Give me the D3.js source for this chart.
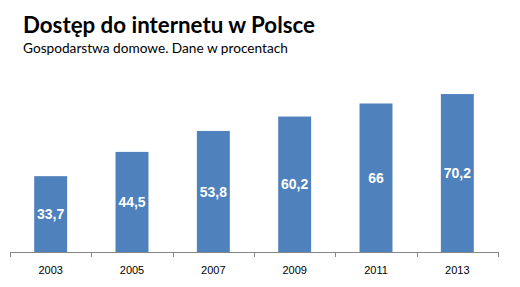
<!DOCTYPE html>
<html>
<head>
<meta charset="utf-8">
<script src="https://cdn.jsdelivr.net/npm/d3@7"></script>
<style>
  html, body { margin: 0; padding: 0; background: #fff; }
  svg { display: block; }
</style>
</head>
<body>
<svg id="chart" width="520" height="287"></svg>
<script>
const title = "Dostęp do internetu w Polsce";
const subtitle = "Gospodarstwa domowe. Dane w procentach";
const years = ["2003", "2005", "2007", "2009", "2011", "2013"];
const values = [33.7, 44.5, 53.8, 60.2, 66, 70.2];
const valueLabels = ["33,7", "44,5", "53,8", "60,2", "66", "70,2"];

const svg = d3.select("#chart");
const W = 520, H = 287;
const left = 10, right = 498, baseY = 252, topY = 72;

const x = d3.scaleBand().domain(years).range([left, right])
  .paddingInner(0.595).paddingOuter(0.2975);
const y = d3.scaleLinear().domain([0, 80]).range([baseY, topY]);

// Title & subtitle, fitted to measured widths
function fitText(sel, targetWidth) {
  const node = sel.node();
  let fs = parseFloat(sel.attr("font-size"));
  const w = node.getComputedTextLength();
  sel.attr("font-size", (fs * targetWidth / w).toFixed(2));
}
const t = svg.append("text").attr("x", 23).attr("y", 33.3)
  .attr("font-family", "Lato, 'Open Sans', sans-serif").attr("font-weight", "bold")
  .attr("font-size", 22).attr("fill", "#000").text(title);
fitText(t, 292);
const st = svg.append("text").attr("x", 23).attr("y", 53.3)
  .attr("font-family", "Lato, 'Open Sans', sans-serif")
  .attr("font-size", 13).attr("fill", "#000").text(subtitle);
fitText(st, 265);

// Bars
const data = years.map((yr, i) => ({ yr, v: values[i], lab: valueLabels[i] }));
svg.append("g").selectAll("rect").data(data).join("rect")
  .attr("x", d => x(d.yr)).attr("width", x.bandwidth())
  .attr("y", d => y(d.v)).attr("height", d => y(0) - y(d.v))
  .attr("fill", "#4f81bd");

// Value labels centered in bars
svg.append("g").selectAll("text").data(data).join("text")
  .attr("x", d => x(d.yr) + x.bandwidth() / 2)
  .attr("y", d => (y(d.v) + y(0)) / 2)
  .attr("dy", "0.36em")
  .attr("text-anchor", "middle")
  .attr("font-family", "'Liberation Sans', Arial, sans-serif")
  .attr("font-weight", "bold").attr("font-size", 14)
  .attr("fill", "#fff").text(d => d.lab);

// X axis
const axis = d3.axisBottom(x).tickSize(0).tickPadding(14);
const ag = svg.append("g").attr("transform", `translate(0,${baseY})`).call(axis);
ag.select(".domain").remove();
ag.selectAll("text").attr("font-family", "'Liberation Sans', Arial, sans-serif")
  .attr("font-size", 11).attr("fill", "#000");
ag.append("line").attr("x1", left).attr("x2", right).attr("y1", 0.5).attr("y2", 0.5)
  .attr("stroke", "#868686").attr("stroke-width", 1);
const bounds = d3.range(years.length + 1).map(i => left + i * x.step());
ag.selectAll("line.btick").data(bounds).join("line").attr("class", "btick")
  .attr("x1", d => Math.round(d) + 0.5).attr("x2", d => Math.round(d) + 0.5)
  .attr("y1", 0).attr("y2", 5)
  .attr("stroke", "#868686").attr("stroke-width", 1);
</script>
</body>
</html>
